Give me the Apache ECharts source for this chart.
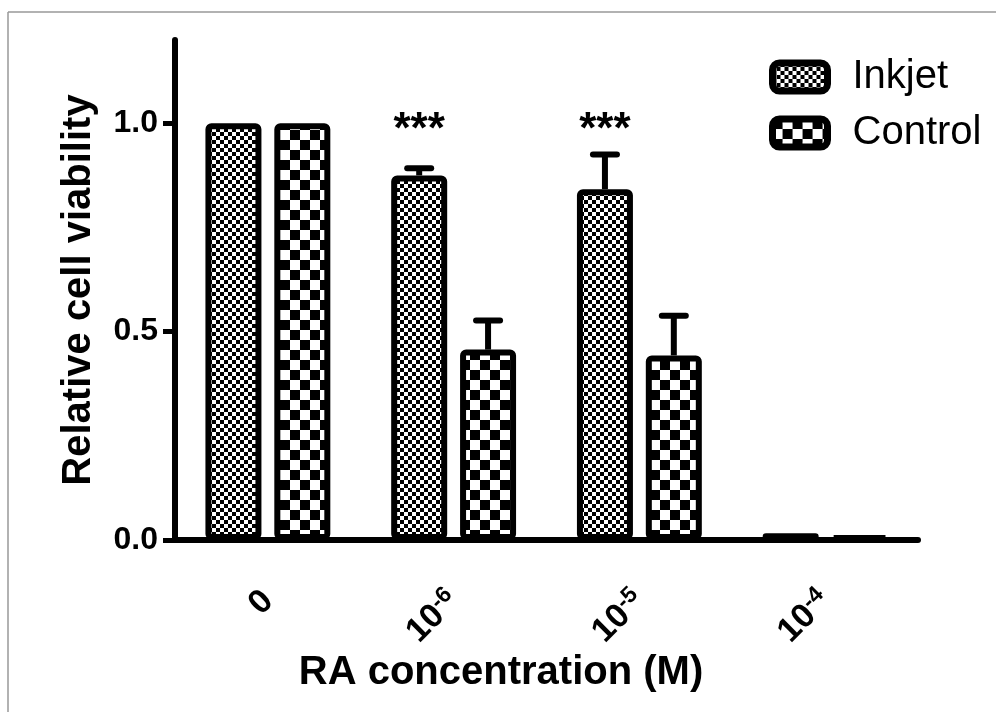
<!DOCTYPE html>
<html>
<head>
<meta charset="utf-8">
<script src="https://cdn.jsdelivr.net/npm/echarts@6/dist/echarts.min.js"></script>
<style>
  html, body { margin: 0; padding: 0; background: #fff; }
  #chart { width: 996px; height: 712px; }
</style>
</head>
<body>
<div id="chart"></div>
<script>
// data
var categories = ['0', '10-6', '10-5', '10-4'];
var labelBase = ['0', '10', '10', '10'];
var labelExp = ['', '-6', '-5', '-4'];
var inkjetMean = [1.0, 0.875, 0.842, 0.016];
var inkjetErr = [0, 0.017, 0.083, 0.003];
var controlMean = [1.0, 0.457, 0.443, 0.010];
var controlErr = [0, 0.070, 0.095, 0.002];
var sigMarks = ['', '***', '***', ''];
var yTicks = [0, 0.5, 1.0];

var FONT = '"Liberation Sans", Arial, sans-serif';
var BAR_W = 56;
var BAR_GAP = 0.23;
var OFFSET = BAR_W * (1 + BAR_GAP) / 2;

// checkerboard fills
function checker(cell) {
    var c = document.createElement('canvas');
    c.width = c.height = cell * 2;
    var ctx = c.getContext('2d');
    ctx.fillStyle = '#fff';
    ctx.fillRect(0, 0, cell * 2, cell * 2);
    ctx.fillStyle = '#000';
    ctx.fillRect(0, 0, cell, cell);
    ctx.fillRect(cell, cell, cell, cell);
    return { image: c, repeat: 'repeat' };
}
var fineFill = checker(4);
var coarseFill = checker(10);

function errSeries(name, means, errs, side, marks) {
    var data = means.map(function (m, i) { return [i, m, errs[i]]; });
    return {
        name: name,
        type: 'custom',
        z: 1,
        data: data,
        encode: { x: 0, y: 1 },
        renderItem: function (params, api) {
            var i = api.value(0), m = api.value(1), e = api.value(2);
            var base = api.coord([i, m]);
            var x = base[0] + side * OFFSET;
            var top = api.coord([i, m + e])[1];
            var children = [];
            if (e > 0.005) {
                children.push({
                    type: 'line',
                    shape: { x1: x, y1: base[1], x2: x, y2: top },
                    style: { stroke: '#000', lineWidth: 6 }
                });
                children.push({
                    type: 'line',
                    shape: { x1: x - 12, y1: top, x2: x + 12, y2: top },
                    style: { stroke: '#000', lineWidth: 6, lineCap: 'round' }
                });
            }
            if (marks && marks[i]) {
                children.push({
                    type: 'text',
                    x: x,
                    y: api.coord([i, 1.0])[1] + 8,
                    style: {
                        text: marks[i], fill: '#000', align: 'center', verticalAlign: 'middle',
                        font: 'bold 44px ' + FONT
                    }
                });
            }
            return { type: 'group', children: children };
        }
    };
}

var chart = echarts.init(document.getElementById('chart'));

var option = {
    animation: false,
    backgroundColor: '#fff',
    grid: { left: 175, right: 78, top: 40, bottom: 172 },
    legend: {
        data: ['Inkjet', 'Control'],
        orient: 'vertical',
        left: 764,
        top: 52,
        itemWidth: 55,
        itemHeight: 28,
        itemGap: 16,
        itemStyle: { borderColor: '#000', borderWidth: 7 },
        textStyle: { fontSize: 40, fontFamily: FONT, color: '#000', padding: [0, 0, 0, 20] }
    },
    xAxis: {
        type: 'category',
        data: categories,
        axisLine: { lineStyle: { color: '#000', width: 6 } },
        axisTick: { alignWithLabel: true, length: 12, lineStyle: { color: '#000', width: 5 } },
        axisLabel: {
            rotate: 45,
            margin: 56,
            formatter: function (v, idx) {
                return labelExp[idx] ? '{b|' + labelBase[idx] + '}{e|' + labelExp[idx] + '}' : '{b|' + labelBase[idx] + '}';
            },
            rich: {
                b: { fontSize: 34, fontWeight: 'bold', fontFamily: FONT, color: '#000' },
                e: { fontSize: 23, fontWeight: 'bold', fontFamily: FONT, color: '#000', verticalAlign: 'top', padding: [0, 0, 14, 0] }
            }
        }
    },
    yAxis: {
        type: 'value',
        min: 0,
        max: 1.2,
        interval: 0.5,
        name: 'Relative cell viability',
        nameLocation: 'middle',
        nameGap: 76,
        nameTextStyle: { fontSize: 40, fontWeight: 'bold', fontFamily: FONT, color: '#000' },
        splitLine: { show: false },
        axisLine: { show: true, lineStyle: { color: '#000', width: 6 } },
        axisTick: { show: true, length: 12, customValues: yTicks, lineStyle: { color: '#000', width: 5 } },
        axisLabel: {
            margin: 17,
            customValues: yTicks,
            formatter: function (v) { return v.toFixed(1); },
            fontSize: 32, fontWeight: 'bold', fontFamily: FONT, color: '#000'
        }
    },
    graphic: [
        { type: 'line', shape: { x1: 8, y1: 12, x2: 996, y2: 12 }, style: { stroke: '#999', lineWidth: 1.5 } },
        { type: 'line', shape: { x1: 8, y1: 12, x2: 8, y2: 712 }, style: { stroke: '#999', lineWidth: 1.5 } },
        {
            type: 'text', x: 501, y: 673,
            style: {
                text: 'RA concentration (M)', fill: '#000', align: 'center', verticalAlign: 'middle',
                font: 'bold 40px ' + FONT
            }
        }
    ],
    series: [
        {
            name: 'Inkjet',
            type: 'bar',
            z: 2,
            barWidth: BAR_W,
            barGap: (BAR_GAP * 100) + '%',
            data: inkjetMean,
            itemStyle: { color: fineFill, borderColor: '#000', borderWidth: 6, borderRadius: 3 }
        },
        {
            name: 'Control',
            type: 'bar',
            z: 2,
            barWidth: BAR_W,
            barGap: (BAR_GAP * 100) + '%',
            data: controlMean,
            itemStyle: { color: coarseFill, borderColor: '#000', borderWidth: 6, borderRadius: 3 }
        },
        errSeries('Inkjet SEM', inkjetMean, inkjetErr, -1, sigMarks),
        errSeries('Control SEM', controlMean, controlErr, 1, null)
    ]
};

chart.setOption(option);
</script>
</body>
</html>
